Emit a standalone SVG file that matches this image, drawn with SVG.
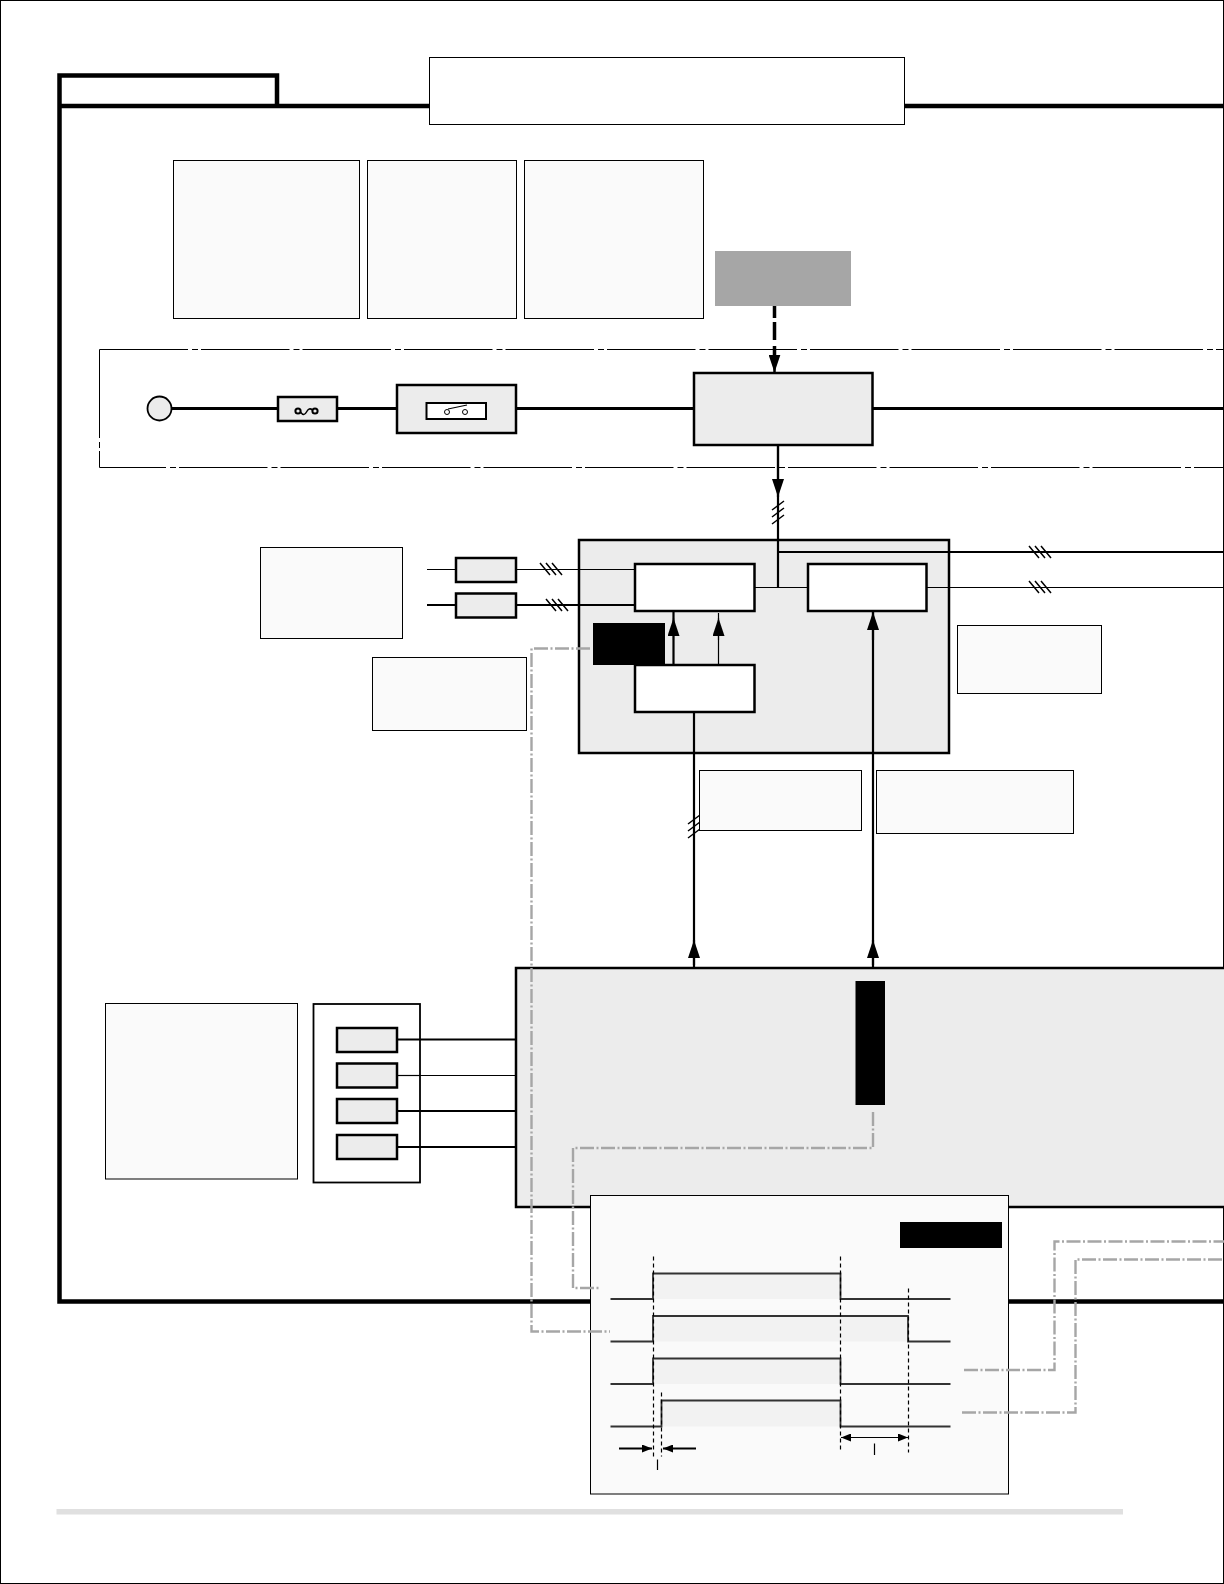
<svg xmlns="http://www.w3.org/2000/svg" width="1224" height="1584" viewBox="0 0 1224 1584">
<style>
.note{fill:#fafafa;stroke:#000;stroke-width:1}
.block{fill:#ececec;stroke:#000;stroke-width:2.5}
.inner{fill:#fff;stroke:#000;stroke-width:2.5}
.blk{fill:#000}
.thin{fill:none;stroke:#000;stroke-width:1.2}
.wire{fill:none;stroke:#000;stroke-width:2.2}
.thick{fill:none;stroke:#000;stroke-width:3}
.hatch{fill:none;stroke:#000;stroke-width:1.5}
.sig{fill:none;stroke:#a6a6a6;stroke-width:2.4;stroke-dasharray:14 2.5 2 2.5}
.pulse{fill:#f2f2f2;stroke:none}
.wave{fill:none;stroke:#333;stroke-width:1.8}
.vdash{fill:none;stroke:#000;stroke-width:1.2;stroke-dasharray:4 3}
.zone{fill:none;stroke:#000;stroke-width:1;stroke-dasharray:88.5 4 6 3}
</style>
<defs>
<marker id="ah" markerUnits="userSpaceOnUse" markerWidth="18" markerHeight="12" refX="18" refY="6" viewBox="0 0 18 12" orient="auto"><path d="M0 0L18 6L0 12Z" fill="#000"/></marker>
<marker id="as" markerUnits="userSpaceOnUse" markerWidth="10" markerHeight="8" refX="10" refY="4" viewBox="0 0 10 8" orient="auto-start-reverse"><path d="M0 0L10 4L0 8Z" fill="#000"/></marker>
</defs>
<rect id="page" x="0.5" y="0.5" width="1223" height="1583" fill="#fff" stroke="#000" stroke-width="1"/>
<path id="frame" d="M1224 1301.500H59.500V75.500H277V106M59.500 106H1224" fill="none" stroke="#000" stroke-width="4.500"/>
<g id="title"><rect x="429.500" y="57.500" width="475" height="67" fill="#fff" stroke="#000"/></g>
<g id="note-a"><rect class="note" x="173.500" y="160.500" width="186" height="158"/></g>
<g id="note-b"><rect class="note" x="367.500" y="160.500" width="149" height="158"/></g>
<g id="note-c"><rect class="note" x="524.500" y="160.500" width="179" height="158"/></g>
<g id="source"><rect x="715" y="251" width="136" height="55" fill="#a6a6a6"/></g>
<g id="zone">
<path class="zone" d="M99.500 349.500H1224"/>
<path class="zone" d="M99.500 349.500V467.500"/>
<path class="zone" stroke-dashoffset="22" d="M99.500 467.500H1224"/>
</g>
<g id="control-block"><rect class="block" x="579" y="540" width="370" height="213"/></g>
<g id="main-block"><rect class="block" x="516" y="968" width="710" height="239"/></g>
<g id="connectors">
<path class="thick" d="M171 408.500H694M872 408.500H1224"/>
<path d="M774.500 306V358" fill="none" stroke="#000" stroke-width="3.500" stroke-dasharray="12 4 18 6 30"/>
<path d="M774.500 352V372.500" fill="none" stroke="#000" stroke-width="2.500" marker-end="url(#ah)"/>
<path class="wire" d="M778 445V587"/>
<path d="M778 445V497" class="wire" marker-end="url(#ah)"/>
<path class="hatch" d="M772 510L784 501M772 517L784 508M772 524L784 515"/>
<path class="wire" d="M778 552H1224"/>
<path class="thin" d="M754 587.500H1224"/>
<path class="hatch" d="M1029 546L1039 558M1035 546L1045 558M1041 546L1051 558"/>
<path class="hatch" d="M1029 581L1039 593M1035 581L1045 593M1041 581L1051 593"/>
<path class="thin" d="M427 569.500H635"/>
<path class="wire" d="M427 605H635"/>
<path class="hatch" d="M540 563L550 575M546 563L556 575M552 563L562 575"/>
<path class="hatch" d="M546 599L556 611M552 599L562 611M558 599L568 611"/>
<path class="wire" d="M673.500 665V611"/>
<path class="thin" d="M718.500 665V613"/>
<path d="M673.500 640V618" class="thin" marker-end="url(#ah)"/>
<path d="M718.500 640V618" class="thin" marker-end="url(#ah)"/>
<path class="wire" d="M694 712V968"/>
<path d="M694 965V940" class="wire" marker-end="url(#ah)"/>
<path class="hatch" d="M688 824L700 815M688 831L700 822M688 838L700 829"/>
<path class="wire" d="M873 968V612"/>
<path d="M873 640V612" class="wire" marker-end="url(#ah)"/>
<path d="M873 965V940" class="wire" marker-end="url(#ah)"/>
<path class="wire" d="M397 1039.500H516"/>
<path class="thin" d="M397 1075.500H516"/>
<path class="wire" d="M397 1111H516"/>
<path class="wire" d="M397 1147H516"/>
</g>
<g id="fuse"><rect class="block" x="278" y="397" width="59" height="24"/><circle cx="298" cy="411" r="2.600" fill="none" stroke="#000" stroke-width="2"/><circle cx="315" cy="411" r="2.600" fill="none" stroke="#000" stroke-width="2"/><path d="M300.500 412Q304 417 306.500 412T312.500 410" fill="none" stroke="#000" stroke-width="1.500"/></g>
<g id="source-dot"><circle cx="159.500" cy="408.500" r="12" fill="#ebebeb" stroke="#000" stroke-width="1.800"/></g>
<g id="switch"><rect class="block" x="397" y="385" width="119" height="48"/><rect x="426.500" y="403" width="59.500" height="16" fill="#fff" stroke="#000" stroke-width="2"/><circle cx="447" cy="412" r="2.500" fill="none" stroke="#000"/><circle cx="465" cy="412" r="2.500" fill="none" stroke="#000"/><path d="M448 409L467 405" class="thin"/></g>
<g id="relay"><rect class="block" x="694" y="373" width="178.500" height="72"/></g>
<g id="in-a"><rect class="block" x="456" y="558" width="60" height="24"/></g>
<g id="in-b"><rect class="block" x="456" y="593.500" width="60" height="24"/></g>
<g id="note-d"><rect class="note" x="260.500" y="547.500" width="142" height="91"/></g>
<g id="note-e"><rect class="note" x="372.500" y="657.500" width="154" height="73"/></g>
<g id="note-f"><rect class="note" x="957.500" y="625.500" width="144" height="68"/></g>
<g id="note-g"><rect class="note" x="699.500" y="770.500" width="162" height="60"/></g>
<g id="note-h"><rect class="note" x="876.500" y="770.500" width="197" height="63"/></g>
<g id="driver-a"><rect class="inner" x="635" y="564" width="119.500" height="47"/></g>
<g id="driver-b"><rect class="inner" x="808" y="564" width="118.500" height="47"/></g>
<g id="logic"><rect class="inner" x="635" y="665" width="119.500" height="47"/></g>
<g id="tag-a"><rect class="blk" x="593" y="623" width="72" height="42"/></g>
<g id="tag-b"><rect class="blk" x="855.500" y="981" width="29.500" height="124"/></g>
<g id="note-i"><rect class="note" x="105.500" y="1003.500" width="192" height="175.500"/></g>
<g id="inputs"><rect x="313.500" y="1004" width="106.500" height="178.500" fill="#fff" stroke="#000" stroke-width="1.800"/>
<path class="wire" d="M397 1039.500H420M397 1111H420M397 1147H420"/><path class="thin" d="M397 1075.500H420"/>
<rect class="block" x="337" y="1028" width="60" height="24"/><rect class="block" x="337" y="1063.500" width="60" height="24"/><rect class="block" x="337" y="1099" width="60" height="24"/><rect class="block" x="337" y="1135" width="60" height="24"/></g>
<g id="timing">
<rect class="note" x="590.500" y="1195.500" width="418" height="298.500"/>
<rect class="blk" x="900" y="1222" width="102" height="26"/>
<rect class="pulse" x="653" y="1273.500" width="187" height="25.500"/>
<rect class="pulse" x="653" y="1316" width="255" height="25.500"/>
<rect class="pulse" x="653" y="1358.500" width="187" height="25.500"/>
<rect class="pulse" x="661.500" y="1400.500" width="178.500" height="26"/>
<path class="wave" d="M610.500 1299H653V1273.500H840.500V1299H950.500"/>
<path class="wave" d="M610.500 1341.500H653V1316H908V1341.500H950.500"/>
<path class="wave" d="M610.500 1384H653V1358.500H840.500V1384H950.500"/>
<path class="wave" d="M610.500 1426.500H661.500V1400.500H840.500V1426.500H950.500"/>
<path class="vdash" d="M653.500 1256.500V1456.500M840.500 1256.500V1450M908.500 1288.500V1452.500M661.500 1392.500V1456.500"/>
<path class="wire" d="M619 1448.500H652" marker-end="url(#as)"/>
<path class="wire" d="M696 1448.500H663" marker-end="url(#as)"/>
<path class="thin" d="M841 1437.500H908" marker-start="url(#as)" marker-end="url(#as)"/>
<path class="thin" d="M874.500 1443.500V1455M657.500 1459.500V1470"/>
</g>
<g id="signal-connectors">
<path class="sig" d="M590 648.500H531.500V1331.500H610"/>
<path class="sig" d="M873 1112V1148H573V1288H600"/>
<path class="sig" d="M964 1370H1054.500V1241.500H1224"/>
<path class="sig" d="M962 1412.500H1075.500V1259.500H1224"/>
</g>
<rect id="footer-rule" x="56.500" y="1509" width="1066.500" height="5.500" fill="#e0e0e0"/>
</svg>
